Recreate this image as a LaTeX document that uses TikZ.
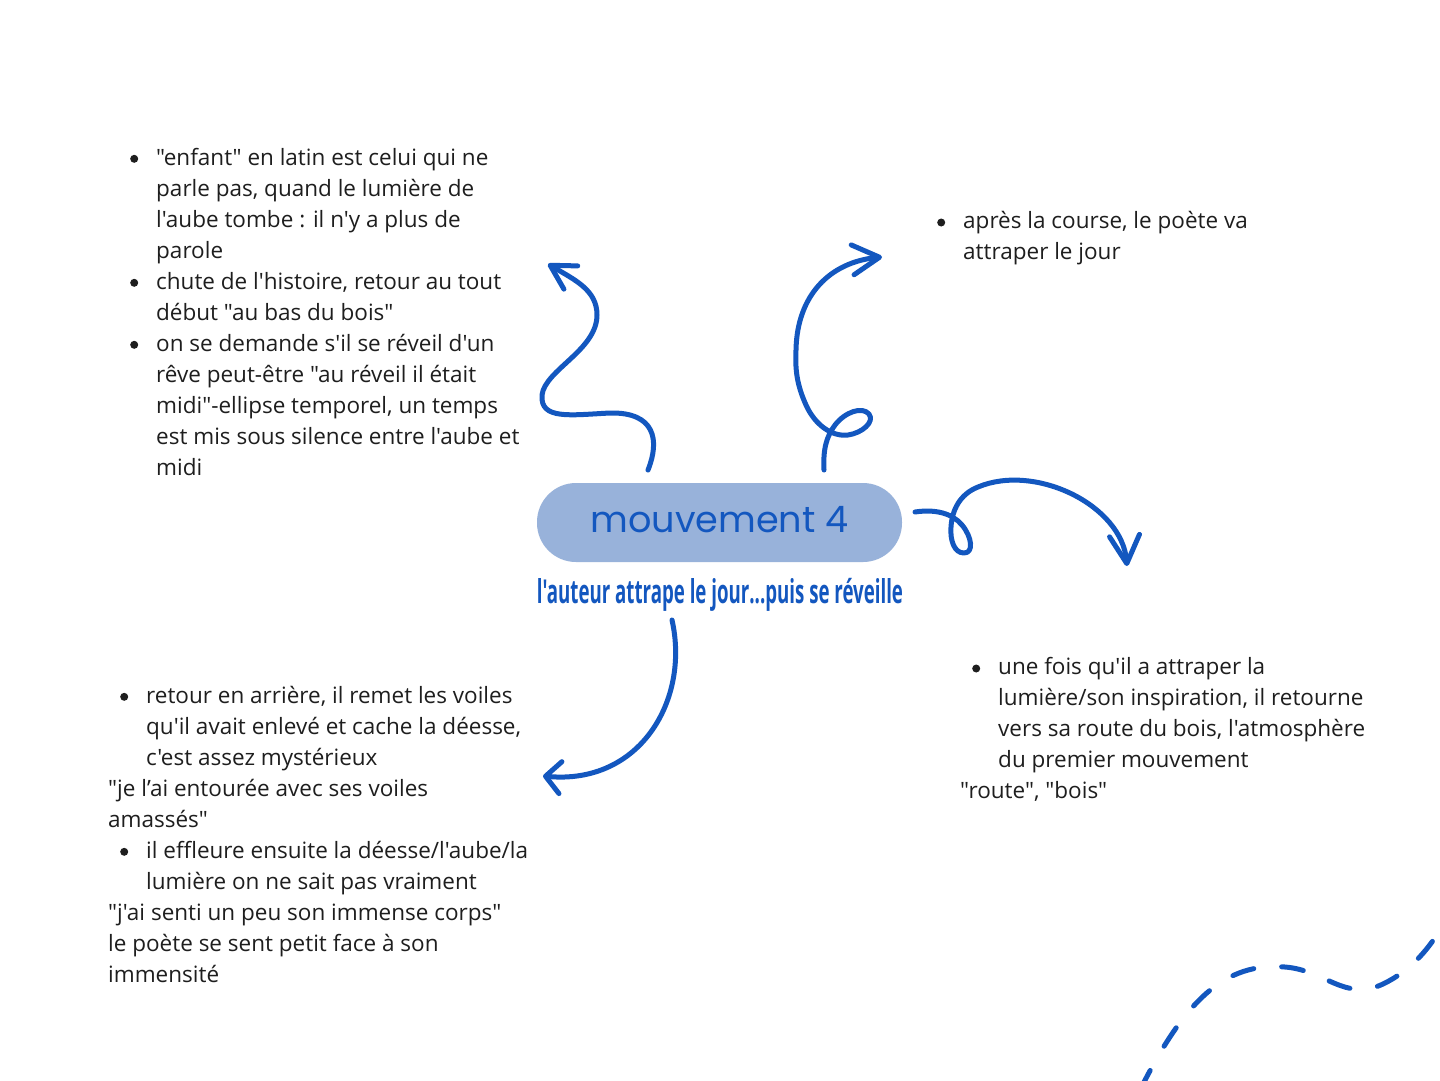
\documentclass[tikz,border=0pt]{standalone}
\usepackage{fontspec}
\usepackage{graphicx}
\usetikzlibrary{arrows.meta}
\newfontfamily\bodyfont{Open Sans}
\newfontfamily\handfont{Poppins}
\newfontfamily\subtfont{Open Sans}
\definecolor{inkblue}{RGB}{19,87,191}
\definecolor{pillblue}{RGB}{152,178,218}
\definecolor{txt}{RGB}{30,30,30}
\tikzset{
  body/.style={anchor=north west, inner sep=0pt, align=left, text=txt,
    font=\bodyfont\fontsize{22.5}{31}\selectfont},
  conn/.style={draw=inkblue, line width=5pt, line cap=round, line join=round},
}
\newcommand\bul{\llap{\raisebox{2.4pt}{\tikz\fill[txt] (0pt,0pt) circle (4pt);}\hspace{18pt}}}
\newcommand\ind{\hspace*{38pt}}
\begin{document}
\begin{tikzpicture}[x=1pt,y=-1pt]
\fill[white] (0,0) rectangle (1440,1080);
\useasboundingbox (0,0) rectangle (1440,1080);

% central pill
\node[fill=pillblue, rounded corners=39pt, minimum width=365pt, minimum height=79pt, inner sep=0pt] (pill) at (719.5,522.5)
  {\color{inkblue}\handfont\resizebox{258pt}{20pt}{\rule{0pt}{\fontcharht\font`x}\smash{mouvement 4}}};
\node[anchor=base, inner sep=0pt, text=inkblue] (sub) at (720,603)
  {\subtfont\bfseries\resizebox{366pt}{25pt}{\rule{0pt}{\fontcharht\font`l}\smash{l'auteur attrape le jour...puis se réveille}}};

% text blocks
\node[body] (b1) at (156,143.3) {\strut\bul"enfant" en latin est celui qui ne\\
parle pas, quand le lumière de\\
l'aube tombe : il n'y a plus de\\
parole\\
\bul chute de l'histoire, retour au tout\\
début "au bas du bois"\\
\bul on se demande s'il se réveil d'un\\
rêve peut-être "au réveil il était\\
midi"-ellipse temporel, un temps\\
est mis sous silence entre l'aube et\\
midi};

\node[body] (b2) at (963,207) {\strut\bul après la course, le poète va\\
attraper le jour};

\node[body] (b3) at (960,653) {\strut\ind\bul une fois qu'il a attraper la\\
\ind lumière/son inspiration, il retourne\\
\ind vers sa route du bois, l'atmosphère\\
\ind du premier mouvement\\
"route", "bois"};

\node[body] (b4) at (108,681.3) {\strut\ind\bul retour en arrière, il remet les voiles\\
\ind qu'il avait enlevé et cache la déesse,\\
\ind c'est assez mystérieux\\
"je l’ai entourée avec ses voiles\\
amassés"\\
\ind\bul il effleure ensuite la déesse/l'aube/la\\
\ind lumière on ne sait pas vraiment\\
"j'ai senti un peu son immense corps"\\
le poète se sent petit face à son\\
immensité};

% connector end points
\coordinate (a1s) at (648,470);
\coordinate (a1e) at (548,264);
\coordinate (a2s) at (824,470);
\coordinate (a2e) at (882,257);
\coordinate (a3s) at (915,512);
\coordinate (a3e) at (1127,566);
\coordinate (a4s) at (672,620);
\coordinate (a4e) at (543,776);
\coordinate (d0) at (1140,1090);
\coordinate (d1) at (1446,920);

% connectors
\draw[conn, -{Straight Barb[length=24pt,width=27pt,round]}] (a1s)
  .. controls (660,440) and (655,412) .. (610,413)
  .. controls (570,415) and (540,420) .. (542,395)
  .. controls (545,370) and (597,350) .. (597,315)
  .. controls (597,290) and (575,280) .. (a1e);

\draw[conn, -{Straight Barb[length=27pt,width=30pt,round]}] (a2s)
  .. controls (823,450) and (826,437) .. (835,425)
  .. controls (845,412) and (862,406) .. (869,414)
  .. controls (875,422) and (862,433) .. (848,435)
  .. controls (832,437) and (815,425) .. (806,405)
  .. controls (797,385) and (795,370) .. (796,350)
  .. controls (797,295) and (830,262) .. (a2e);

\draw[conn, -{Straight Barb[length=28pt,width=30pt,round]}] (a3s)
  .. controls (935,509) and (952,513) .. (962,525)
  .. controls (972,537) and (974,553) .. (964,553)
  .. controls (954,553) and (950,540) .. (951,527)
  .. controls (952,510) and (960,494) .. (978,487)
  .. controls (1035,463) and (1122,505) .. (a3e);

\draw[conn, -{Straight Barb[length=15pt,width=32pt,round]}] (a4s)
  .. controls (690,700) and (640,785) .. (a4e);

\draw[conn, dash pattern=on 22pt off 28pt] (d0)
  .. controls (1185,1000) and (1225,962) .. (1285,967)
  .. controls (1325,970) and (1345,1002) .. (1383,984)
  .. controls (1412,970) and (1430,948) .. (d1);
\end{tikzpicture}
\end{document}
